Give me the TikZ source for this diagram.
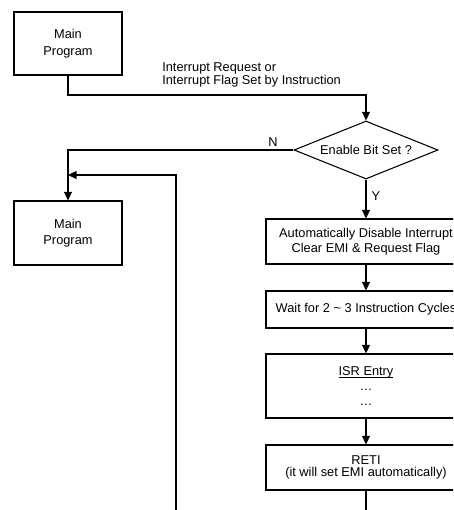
\documentclass[tikz,border=0pt]{standalone}
\usepackage{fontspec}
\setmainfont{Liberation Sans}
\usetikzlibrary{arrows.meta,shapes.geometric}
\newcommand\ulisr[1]{\setbox0\hbox{#1}\rlap{\rule[-1.4pt]{\wd0}{0.5pt}}\box0}
\begin{document}
\begin{tikzpicture}[x=0.75pt,y=-0.75pt,
  every node/.style={font=\fontsize{9.6}{10.1}\selectfont},
  box/.style={draw,line width=0.8pt,rectangle,align=center,inner sep=0pt},
  lbl/.style={inner sep=0pt},
  conn/.style={line width=0.8pt},
  arr/.style={conn,-{Triangle[length=6.5pt,width=6pt]}}]
\useasboundingbox (0,0) rectangle (453,510);
\clip (0,0) rectangle (453,510);
\node[box,minimum width=81pt,minimum height=47.25pt,font=\fontsize{9.6}{12.4}\selectfont] (main1) at (68,43.5) {Main\\Program};
\node[box,minimum width=81pt,minimum height=48pt,font=\fontsize{9.6}{12.4}\selectfont] (main2) at (68,233) {Main\\Program};
\node[draw,line width=0.8pt,diamond,inner sep=0pt,minimum width=108pt,minimum height=43.5pt,label={center:Enable Bit Set ?}] (dia) at (366,150) {};
\node[box,minimum width=150pt,minimum height=33.75pt,font=\fontsize{9.6}{10.8}\selectfont] (auto) at (366,241.5) {Automatically Disable Interrupt\\Clear EMI \& Request Flag};
\node[box,minimum width=150pt,minimum height=27.75pt] (wait) at (366,309.5) {Wait for 2 \char`\~{} 3 Instruction Cycles};
\node[box,minimum width=150pt,minimum height=48pt,font=\fontsize{9.6}{10.9}\selectfont] (isr) at (366,386) {\ulisr{ISR Entry}\\…\\…};
\node[box,minimum width=150pt,minimum height=33.75pt,font=\fontsize{9.6}{9.2}\selectfont] (reti) at (366,467.5) {RETI\\(it will set EMI automatically)};
\node[lbl,anchor=west,align=left] (req) at (162,75) {Interrupt Request or\\Interrupt Flag Set by Instruction};
\node[lbl] (n) at (273,142) {N};
\node[lbl] (y) at (376,196) {Y};
\coordinate (k1) at (366,95);
\coordinate (k2) at (176,175);
\coordinate (k3) at (68,175);
\coordinate (e1) at (176,520);
\coordinate (e2) at (366,520);
\draw[arr] (main1.south) |- (k1) -- (dia.north);
\draw[arr] (dia.west) -| (main2.north);
\draw[arr] (e1) -- (k2) -- (k3);
\draw[arr] (dia.south) -- (auto.north);
\draw[arr] (auto.south) -- (wait.north);
\draw[arr] (wait.south) -- (isr.north);
\draw[arr] (isr.south) -- (reti.north);
\draw[conn] (reti.south) -- (e2);
\end{tikzpicture}
\end{document}
